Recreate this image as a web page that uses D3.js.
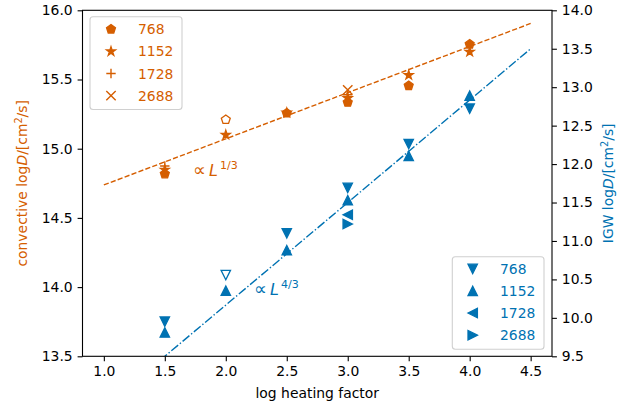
<!DOCTYPE html>
<html><head><meta charset="utf-8">
<script src="https://cdn.jsdelivr.net/npm/d3@7"></script>
<style>body{margin:0;background:#fff} svg{display:block} text{font-family:"DejaVu Sans",sans-serif}</style>
</head><body><svg id="c" width="629" height="410"></svg>
<script>
// ---------- data ----------
const resolutions = ["768", "1152", "1728", "2688"];
const heatX = [1.5, 2.0, 2.5, 3.0, 3.5, 4.0];
const conv768 = [14.817, 15.21, 15.257, 15.335, 15.455, 15.755];
const conv768Open = [false, true, false, false, false, false];
const conv1152 = [14.848, 15.10, 15.26, 15.365, 15.532, 15.70];
const conv1728X = [1.5, 3.0];
const conv1728 = [14.875, 15.39];
const conv2688X = [3.0];
const conv2688 = [15.425];
const igw768 = [9.95, 10.557, 11.10, 11.69, 12.26, 12.72];
const igw768Open = [false, true, false, false, false, false];
const igw1152 = [9.81, 10.353, 10.88, 11.53, 12.105, 12.89];
const igw1728X = [3.0];
const igw1728 = [11.34];
const igw2688X = [3.0];
const igw2688 = [11.22];
const fitX = [1.0, 4.5];
const convFit = [14.738, 15.905];
const igwFit = [8.833, 13.5];
const xTicks = [1.0, 1.5, 2.0, 2.5, 3.0, 3.5, 4.0, 4.5];
const leftTicks = [13.5, 14.0, 14.5, 15.0, 15.5, 16.0];
const rightTicks = [9.5, 10.0, 10.5, 11.0, 11.5, 12.0, 12.5, 13.0, 13.5, 14.0];

// ---------- layout ----------
const ORANGE = "#d55e00", BLUE = "#0072b2";
const L = 82.5, R = 552, T = 10.3, B = 356.3;
const FS = 13.9;
const svg = d3.select("#c");
const x = d3.scaleLinear().domain([0.825, 4.675]).range([L, R]);
const yL = d3.scaleLinear().domain([13.5, 16.0]).range([B, T]);
const yR = d3.scaleLinear().domain([9.5, 14.0]).range([B, T]);

svg.append("defs").append("clipPath").attr("id", "clip")
  .append("rect").attr("x", L).attr("y", T).attr("width", R - L).attr("height", B - T);

// marker shapes
const MS = 9.4, r = MS / 2;
function poly(pts) { return "M" + pts.map(p => p.join(",")).join("L") + "Z"; }
const shapes = {
  pentagon: () => poly(d3.range(5).map(k => { const a = (-90 + 72 * k) * Math.PI / 180; return [r * Math.cos(a), r * Math.sin(a)]; })),
  star: () => poly(d3.range(10).map(k => { const a = (-90 + 36 * k) * Math.PI / 180; const rr = k % 2 ? r * 0.381966 : r; return [rr * Math.cos(a), rr * Math.sin(a)]; })),
  plus: () => `M${-r},0L${r},0M0,${-r}L0,${r}`,
  x: () => `M${-r},${-r}L${r},${r}M${-r},${r}L${r},${-r}`,
  down: () => poly([[0, r], [-r, -r], [r, -r]]),
  up: () => poly([[0, -r], [-r, r], [r, r]]),
  left: () => poly([[-r, 0], [r, -r], [r, r]]),
  right: () => poly([[r, 0], [-r, -r], [-r, r]])
};
const lineShapes = new Set(["plus", "x"]);
function marker(g, shape, color, cx, cy, open) {
  const p = g.append("path").attr("d", shapes[shape]()).attr("transform", `translate(${cx},${cy})`);
  if (lineShapes.has(shape)) p.attr("fill", "none").attr("stroke", color).attr("stroke-width", 1.4);
  else p.attr("fill", open ? "#fff" : color).attr("stroke", color).attr("stroke-width", 1.3).attr("stroke-linejoin", "miter");
}

// fit lines
const plot = svg.append("g").attr("clip-path", "url(#clip)");
plot.append("path").datum(fitX.map((v, i) => [v, convFit[i]]))
  .attr("d", d3.line().x(d => x(d[0])).y(d => yL(d[1])))
  .attr("fill", "none").attr("stroke", ORANGE).attr("stroke-width", 1.4).attr("stroke-dasharray", "5.2,2.2");
plot.append("path").datum(fitX.map((v, i) => [v, igwFit[i]]))
  .attr("d", d3.line().x(d => x(d[0])).y(d => yR(d[1])))
  .attr("fill", "none").attr("stroke", BLUE).attr("stroke-width", 1.4).attr("stroke-dasharray", "8.9,2.2,1.4,2.2");

// data points
const pts = svg.append("g");
heatX.forEach((v, i) => marker(pts, "pentagon", ORANGE, x(v), yL(conv768[i]), conv768Open[i]));
heatX.forEach((v, i) => marker(pts, "star", ORANGE, x(v), yL(conv1152[i]), false));
conv1728X.forEach((v, i) => marker(pts, "plus", ORANGE, x(v), yL(conv1728[i]), false));
conv2688X.forEach((v, i) => marker(pts, "x", ORANGE, x(v), yL(conv2688[i]), false));
heatX.forEach((v, i) => marker(pts, "down", BLUE, x(v), yR(igw768[i]), igw768Open[i]));
heatX.forEach((v, i) => marker(pts, "up", BLUE, x(v), yR(igw1152[i]), false));
igw1728X.forEach((v, i) => marker(pts, "left", BLUE, x(v), yR(igw1728[i]), false));
igw2688X.forEach((v, i) => marker(pts, "right", BLUE, x(v), yR(igw2688[i]), false));

// axes
const fmt = d3.format(".1f");
function styleAxis(g) {
  g.selectAll("path.domain").remove();
  g.selectAll("line").attr("stroke", "#000").attr("stroke-width", 1.1);
  g.selectAll("text").attr("font-size", FS).attr("fill", "#000").attr("font-family", "DejaVu Sans");
}
svg.append("g").attr("transform", `translate(0,${B})`)
  .call(d3.axisBottom(x).tickValues(xTicks).tickFormat(fmt).tickSize(4.9).tickPadding(4.9)).call(styleAxis);
svg.append("g").attr("transform", `translate(${L},0)`)
  .call(d3.axisLeft(yL).tickValues(leftTicks).tickFormat(fmt).tickSize(4.9).tickPadding(4.9)).call(styleAxis);
svg.append("g").attr("transform", `translate(${R},0)`)
  .call(d3.axisRight(yR).tickValues(rightTicks).tickFormat(fmt).tickSize(4.9).tickPadding(4.9)).call(styleAxis);
svg.append("rect").attr("x", L).attr("y", T).attr("width", R - L).attr("height", B - T)
  .attr("fill", "none").attr("stroke", "#000").attr("stroke-width", 1.1);

// axis labels
svg.append("text").attr("x", (L + R) / 2).attr("y", 398).attr("text-anchor", "middle")
  .attr("font-size", FS).text("log heating factor");
function dLabel(xpos, rot, color, prefix) {
  const t = svg.append("text").attr("transform", `translate(${xpos},${(T + B) / 2}) rotate(${rot})`)
    .attr("text-anchor", "middle").attr("font-size", FS).attr("fill", color);
  t.append("tspan").text(prefix + "log");
  t.append("tspan").attr("font-style", "italic").text("D");
  t.append("tspan").text("/[cm");
  t.append("tspan").attr("font-size", FS * 0.7).attr("dy", -5.5).text("2");
  t.append("tspan").attr("dy", 5.5).text("/s]");
}
dLabel(27, -90, ORANGE, "convective ");
dLabel(613, -90, BLUE, "IGW ");

// annotations
function propto(px, py, color, exp) {
  const g = svg.append("g").attr("fill", color);
  g.append("text").attr("x", px - 1).attr("y", py).attr("font-size", 18).text("\u221D");
  g.append("text").attr("x", px + 15).attr("y", py).attr("font-size", 16).attr("font-style", "italic").text("L");
  g.append("text").attr("x", px + 26).attr("y", py - 7).attr("font-size", 11).text(exp);
}
propto(194, 176, ORANGE, "1/3");
propto(255, 295, BLUE, "4/3");

// legends
function legend(bx, by, bw, bh, color, shapeList, rowY0, rowDy, mx, tx) {
  svg.append("rect").attr("x", bx).attr("y", by).attr("width", bw).attr("height", bh)
    .attr("rx", 3).attr("fill", "#fff").attr("fill-opacity", 0.8).attr("stroke", "#d0d0d0").attr("stroke-width", 1.1);
  resolutions.forEach((lab, i) => {
    const cy = rowY0 + i * rowDy;
    marker(svg, shapeList[i], color, mx, cy, false);
    svg.append("text").attr("x", tx).attr("y", cy + 5).attr("font-size", FS).attr("fill", color).text(lab);
  });
}
legend(90, 16.7, 92, 92.8, ORANGE, ["pentagon", "star", "plus", "x"], 29.3, 22.1, 111, 138);
legend(452.3, 256.7, 91.7, 92.6, BLUE, ["down", "up", "left", "right"], 268.9, 22.1, 472.7, 500);
</script></body></html>
